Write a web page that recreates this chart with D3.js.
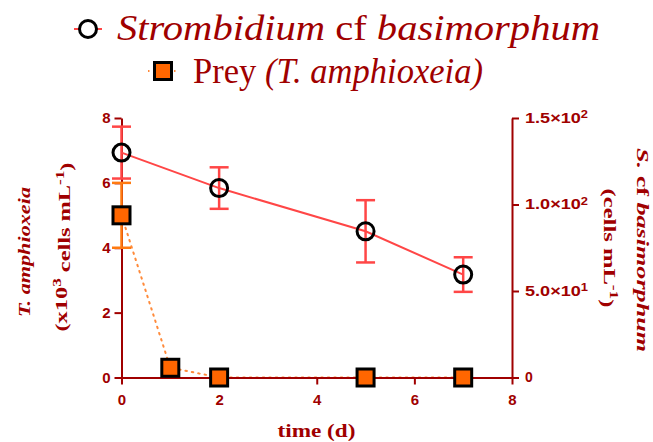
<!DOCTYPE html>
<html><head><meta charset="utf-8">
<script src="https://cdn.jsdelivr.net/npm/d3@7"></script>
<style>
html,body{margin:0;padding:0;background:#fff;}
svg{display:block;}
</style></head>
<body>
<svg id="chart" width="653" height="442"></svg>
<script>
// ---- data ----
const strombDays = [0, 2, 5, 7];
const strombMean = [130, 109.5, 84.5, 59.5];
const strombSD = [15, 12, 18, 10];
const preyDays = [0, 1, 2, 5, 7];
const preyMean = [5, 0.3, 0, 0, 0];
const preySD = [1, 0, 0, 0, 0];
const xTicks = [0, 2, 4, 6, 8];
const leftTicks = [0, 2, 4, 6, 8];
const rightTicks = [0, 50, 100, 150];
const rightTickMant = ["0", "5.0×10", "1.0×10", "1.5×10"];
const rightTickExp = ["", "1", "2", "2"];

// ---- style ----
const dark = "#a00000";
const red = "#ff4646";
const orange = "#ff6600";
const orangeBar = "#ff7a10";
const orangeDot = "#ff8a3a";

const svg = d3.select("#chart");
const x = d3.scaleLinear().domain([0, 8]).range([121.5, 512]);
const yL = d3.scaleLinear().domain([0, 8]).range([377.5, 118]);
const yR = d3.scaleLinear().domain([0, 150]).range([377.5, 118]);

const stromb = strombDays.map((d, i) => ({d, m: strombMean[i], s: strombSD[i]}));
const prey = preyDays.map((d, i) => ({d, m: preyMean[i], s: preySD[i]}));

// prey dotted line (under axes)
svg.append("path")
  .datum(prey)
  .attr("fill", "none")
  .attr("stroke", orangeDot)
  .attr("stroke-width", 2)
  .attr("stroke-dasharray", "1.5,5")
  .attr("stroke-linecap", "round")
  .attr("d", d3.line().x(p => x(p.d)).y(p => yL(p.m)));

// axes
function styleAxis(g) {
  g.select(".domain").attr("stroke", dark).attr("stroke-width", 2);
  g.selectAll(".tick line").attr("stroke", dark).attr("stroke-width", 2);
  g.selectAll(".tick text").attr("fill", dark)
    .attr("font-family", "Liberation Sans, Arial, sans-serif")
    .attr("font-weight", "bold").attr("font-size", 15);
}
const gx = svg.append("g").attr("transform", `translate(0,${yL(0)})`)
  .call(d3.axisBottom(x).tickValues(xTicks).tickSize(7).tickSizeOuter(0).tickPadding(10).tickFormat(d3.format("d")));
styleAxis(gx);
const gl = svg.append("g").attr("transform", `translate(${x(0)},0)`)
  .call(d3.axisLeft(yL).tickValues(leftTicks).tickSize(7).tickSizeOuter(0).tickPadding(4).tickFormat(d3.format("d")));
styleAxis(gl);
const gr = svg.append("g").attr("transform", `translate(${x(8)},0)`)
  .call(d3.axisRight(yR).tickValues(rightTicks).tickSize(7).tickSizeOuter(0).tickPadding(6).tickFormat(() => ""));
styleAxis(gr);
gr.selectAll(".tick text").attr("font-size", 14).each(function(d, i) {
  const t = d3.select(this);
  t.text(null);
  t.append("tspan").text(rightTickMant[i]);
  if (rightTickExp[i]) {
    t.append("tspan").attr("dy", "-0.45em").attr("font-size", 10).text(rightTickExp[i]);
    t.attr("textLength", 63).attr("lengthAdjust", "spacingAndGlyphs");
  }
});

// strombidium line
svg.append("path")
  .datum(stromb)
  .attr("fill", "none")
  .attr("stroke", red)
  .attr("stroke-width", 2)
  .attr("d", d3.line().x(p => x(p.d)).y(p => yR(p.m)));

// error bars
function errorBars(data, yScale, color) {
  const g = svg.append("g").attr("stroke", color).attr("stroke-width", 2.5).attr("fill", "none");
  data.filter(p => p.s > 0).forEach(p => {
    const cx = x(p.d), y1 = yScale(p.m + p.s), y2 = yScale(p.m - p.s);
    g.append("line").attr("x1", cx).attr("x2", cx).attr("y1", y1).attr("y2", y2);
    g.append("line").attr("x1", cx - 9.5).attr("x2", cx + 9.5).attr("y1", y1).attr("y2", y1);
    g.append("line").attr("x1", cx - 9.5).attr("x2", cx + 9.5).attr("y1", y2).attr("y2", y2);
  });
}
errorBars(stromb, yR, red);
errorBars(prey, yL, orangeBar);

// markers
svg.append("g").selectAll("circle").data(stromb).join("circle")
  .attr("cx", p => x(p.d)).attr("cy", p => yR(p.m)).attr("r", 8.5)
  .attr("fill", "none").attr("stroke", "#000").attr("stroke-width", 3);
svg.append("g").selectAll("rect").data(prey).join("rect")
  .attr("x", p => x(p.d) - 8.5).attr("y", p => yL(p.m) - 8.5)
  .attr("width", 17).attr("height", 17)
  .attr("fill", orange).attr("stroke", "#000").attr("stroke-width", 3);

// axis titles
const serif = "Liberation Serif, Times New Roman, serif";
svg.append("text").attr("x", 316.5).attr("y", 437)
  .attr("text-anchor", "middle").attr("font-family", serif).attr("font-weight", "bold")
  .attr("font-size", 19).attr("fill", dark)
  .attr("textLength", 78).attr("lengthAdjust", "spacingAndGlyphs")
  .text("time (d)");

svg.append("text").attr("transform", "translate(30,252) rotate(-90)")
  .attr("text-anchor", "middle").attr("font-family", serif).attr("font-weight", "bold")
  .attr("font-style", "italic").attr("font-size", 17).attr("fill", dark)
  .attr("textLength", 130).attr("lengthAdjust", "spacingAndGlyphs")
  .text("T. amphioxeia");
const lt2 = svg.append("text").attr("transform", "translate(67,247) rotate(-90)")
  .attr("text-anchor", "middle").attr("font-family", serif).attr("font-weight", "bold")
  .attr("font-size", 17).attr("fill", dark)
  .attr("textLength", 169).attr("lengthAdjust", "spacingAndGlyphs");
lt2.append("tspan").text("(x10");
lt2.append("tspan").attr("dy", "-0.5em").attr("font-size", 12).text("3");
lt2.append("tspan").attr("dy", "0.5em").text(" cells mL");
lt2.append("tspan").attr("dy", "-0.5em").attr("font-size", 12).text("-1");
lt2.append("tspan").attr("dy", "0.5em").text(")");

const rt1 = svg.append("text").attr("transform", "translate(637,250) rotate(90)")
  .attr("text-anchor", "middle").attr("font-family", serif).attr("font-weight", "bold")
  .attr("font-size", 17).attr("fill", dark)
  .attr("textLength", 204).attr("lengthAdjust", "spacingAndGlyphs");
rt1.append("tspan").attr("font-style", "italic").text("S.");
rt1.append("tspan").text(" cf ");
rt1.append("tspan").attr("font-style", "italic").text("basimorphum");
const rt2 = svg.append("text").attr("transform", "translate(604,248) rotate(90)")
  .attr("text-anchor", "middle").attr("font-family", serif).attr("font-weight", "bold")
  .attr("font-size", 17).attr("fill", dark)
  .attr("textLength", 119).attr("lengthAdjust", "spacingAndGlyphs");
rt2.append("tspan").text("(cells mL");
rt2.append("tspan").attr("dy", "-0.5em").attr("font-size", 12).text("-1");
rt2.append("tspan").attr("dy", "0.5em").text(")");

// legend
const lg = svg.append("g");
lg.append("line").attr("x1", 74).attr("x2", 102).attr("y1", 29).attr("y2", 29)
  .attr("stroke", red).attr("stroke-width", 2);
lg.append("circle").attr("cx", 88).attr("cy", 29).attr("r", 8.5)
  .attr("fill", "#fff").attr("stroke", "#000").attr("stroke-width", 3);
const l1 = lg.append("text").attr("x", 117).attr("y", 40)
  .attr("font-family", serif).attr("font-size", 36).attr("fill", dark)
  .attr("textLength", 483).attr("lengthAdjust", "spacingAndGlyphs");
l1.append("tspan").attr("font-style", "italic").text("Strombidium");
l1.append("tspan").text(" cf ");
l1.append("tspan").attr("font-style", "italic").text("basimorphum");

lg.append("line").attr("x1", 148).attr("x2", 178).attr("y1", 71).attr("y2", 71)
  .attr("stroke", orangeDot).attr("stroke-width", 2).attr("stroke-dasharray", "1.5,5");
lg.append("rect").attr("x", 163 - 8.5).attr("y", 71 - 8.5).attr("width", 17).attr("height", 17)
  .attr("fill", orange).attr("stroke", "#000").attr("stroke-width", 3);
const l2 = lg.append("text").attr("x", 193).attr("y", 83)
  .attr("font-family", serif).attr("font-size", 35).attr("fill", dark)
  .attr("textLength", 290).attr("lengthAdjust", "spacingAndGlyphs");
l2.append("tspan").text("Prey ");
l2.append("tspan").attr("font-style", "italic").text("(T. amphioxeia)");
</script>
</body></html>
